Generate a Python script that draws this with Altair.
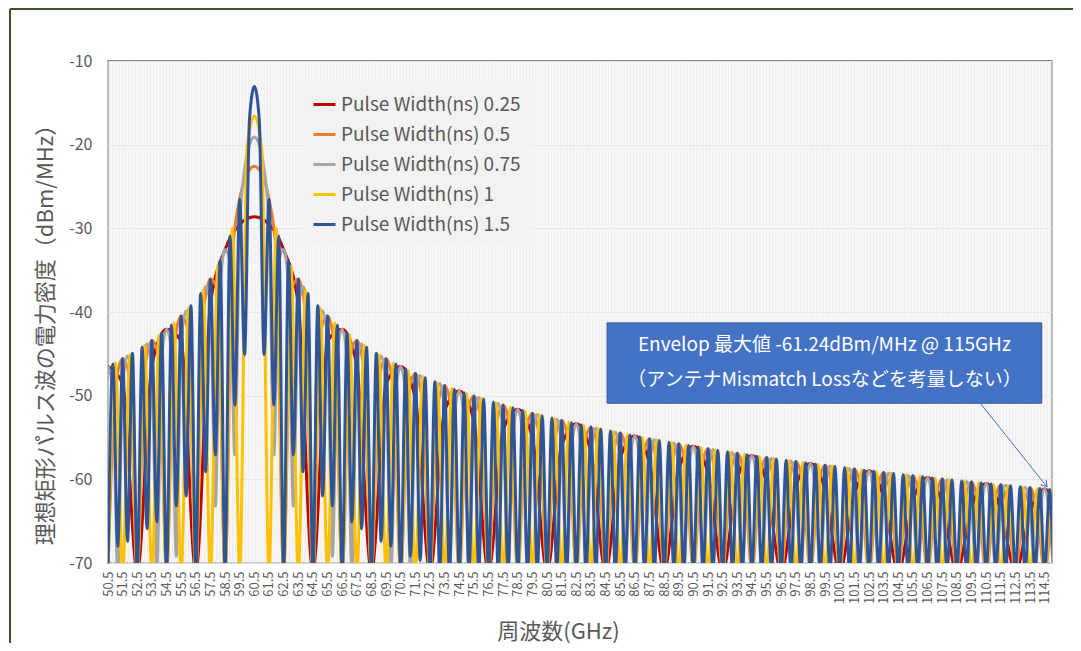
import altair as alt
import pandas as pd
import numpy as np

FONT = "Noto Sans CJK JP"
TXT = "#595959"

CENTER_GHZ = 60.5
X_MIN, X_MAX = 50.5, 115.0
Y_MIN, Y_MAX = -70, -10

SERIES = ["Pulse Width(ns) 0.25", "Pulse Width(ns) 0.5", "Pulse Width(ns) 0.75",
          "Pulse Width(ns) 1", "Pulse Width(ns) 1.5"]
COLORS = ["#C00000", "#ED7D31", "#A5A5A5", "#FFC000", "#2F5597"]
# spacing (GHz) between successive readings of each list, counted outward from 60.5 GHz
# (the spectrum is mirror-symmetric about 60.5 GHz)
READ_STEP = [1.0, 0.5, 1 / 3, 0.5, 1 / 3]

RED_DB = [
    -28.61, -29.52, -32.53, -39.06, -71, -43.50, -42.07, -46.42, -71, -48.61,
    -46.51, -50.35, -71, -51.80, -49.43, -53.04, -71, -54.13, -51.62, -55.10,
    -71, -55.96, -53.36, -56.76, -71, -57.48, -54.81, -58.15, -71, -58.77,
    -56.05, -59.35, -71, -59.89, -57.14, -60.40, -71, -60.88, -58.11, -61.34,
    -71, -61.78, -58.98, -62.19, -71, -62.58, -59.77, -62.96, -71, -63.32,
    -60.49, -63.67, -71, -64.01, -61.16, -64.33,
]
ORANGE_DB = [
    -22.59, -23.50, -26.51, -33.04, -71, -37.48, -36.05, -40.40, -71, -42.58,
    -40.49, -44.33, -71, -45.78, -43.41, -47.02, -71, -48.11, -45.59, -49.07,
    -71, -49.94, -47.34, -50.73, -71, -51.46, -48.79, -52.13, -71, -52.75,
    -50.03, -53.33, -71, -53.87, -51.12, -54.38, -71, -54.86, -52.09, -55.32,
    -71, -55.76, -52.95, -56.17, -71, -56.56, -53.74, -56.94, -71, -57.30,
    -54.47, -57.65, -71, -57.99, -55.14, -58.31, -71, -58.62, -55.76, -58.92,
    -71, -59.21, -56.34, -59.49, -71, -59.76, -56.88, -60.02, -71, -60.28,
    -57.39, -60.52, -71, -60.77, -57.87, -61.00, -71, -61.23, -58.33, -61.45,
    -71, -61.67, -58.77, -61.88, -71, -62.09, -59.18, -62.29, -71, -62.49,
    -59.57, -62.68, -71, -62.87, -59.95, -63.05, -71, -63.23, -60.31, -63.41,
    -71, -63.59, -60.66, -63.76, -71, -63.92, -61.00, -64.09, -71, -64.25,
    -61.32,
]
GRAY_DB = [
    -19.07, -19.98, -22.99, -29.52, -57.1, -33.96, -32.53, -36.88, -63.2, -39.06,
    -36.97, -40.81, -71, -42.26, -39.89, -43.50, -69.2, -44.59, -42.07, -45.55,
    -71, -46.42, -43.82, -47.21, -71, -47.94, -45.27, -48.61, -71, -49.23,
    -46.51, -49.81, -71, -50.35, -47.60, -50.86, -71, -51.34, -48.56, -51.80,
    -71, -52.23, -49.43, -52.65, -71, -53.04, -50.22, -53.42, -71, -53.78,
    -50.95, -54.13, -71, -54.46, -51.62, -54.79, -71, -55.10, -52.24, -55.40,
    -71, -55.69, -52.82, -55.97, -71, -56.24, -53.36, -56.50, -71, -56.76,
    -53.87, -57.00, -71, -57.24, -54.35, -57.48, -71, -57.71, -54.81, -57.93,
    -71, -58.15, -55.24, -58.36, -71, -58.57, -55.66, -58.77, -71, -58.97,
    -56.05, -59.16, -71, -59.35, -56.43, -59.53, -71, -59.71, -56.79, -59.89,
    -71, -60.06, -57.14, -60.24, -71, -60.40, -57.47, -60.57, -71, -60.73,
    -57.80, -60.88, -71, -61.04, -58.11, -61.19, -71, -61.34, -58.41, -61.49,
    -71, -61.63, -58.70, -61.78, -71, -61.92, -58.98, -62.05, -71, -62.19,
    -59.25, -62.32, -71, -62.46, -59.51, -62.59, -71, -62.71, -59.77, -62.84,
    -71, -62.96, -60.01, -63.09, -71, -63.21, -60.26, -63.32, -71, -63.44,
    -60.49, -63.56, -71, -63.67, -60.72, -63.78, -71, -63.90, -60.94, -64.01,
    -71, -64.11, -61.16, -64.22, -71, -64.33,
]
YELLOW_DB = [
    -16.57, -20.49, -71, -30.03, -71, -34.47, -71, -37.39, -71, -39.57,
    -71, -41.32, -71, -42.77, -71, -44.01, -71, -45.10, -71, -46.06,
    -71, -46.93, -71, -47.72, -71, -48.45, -71, -49.12, -71, -49.74,
    -71, -50.32, -71, -50.86, -71, -51.37, -71, -51.85, -71, -52.31,
    -71, -52.75, -71, -53.16, -71, -53.55, -71, -53.93, -71, -54.29,
    -71, -54.64, -71, -54.98, -71, -55.30, -71, -55.61, -71, -55.91,
    -71, -56.20, -71, -56.48, -71, -56.75, -71, -57.01, -71, -57.27,
    -71, -57.51, -71, -57.76, -71, -57.99, -71, -58.22, -71, -58.44,
    -71, -58.66, -71, -58.87, -71, -59.08, -71, -59.28, -71, -59.48,
    -71, -59.67, -71, -59.86, -71, -60.04, -71, -60.22, -71, -60.40,
    -71, -60.58, -71, -60.75, -71, -60.91, -71, -61.08, -71, -61.24,
    -71,
]
BLUE_DB = [
    -13.05, -16.97, -45.1, -26.51, -51.1, -30.95, -71, -33.87, -57.1, -36.05,
    -59.1, -37.80, -71, -39.25, -62.0, -40.49, -63.2, -41.58, -71, -42.54,
    -65.1, -43.41, -65.9, -44.20, -71, -44.93, -67.4, -45.60, -68.0, -46.22,
    -71, -46.80, -69.2, -47.34, -69.7, -47.85, -71, -48.33, -71, -48.79,
    -71, -49.22, -71, -49.64, -71, -50.03, -71, -50.41, -71, -50.77,
    -71, -51.12, -71, -51.45, -71, -51.78, -71, -52.09, -71, -52.39,
    -71, -52.68, -71, -52.96, -71, -53.23, -71, -53.49, -71, -53.75,
    -71, -53.99, -71, -54.23, -71, -54.47, -71, -54.70, -71, -54.92,
    -71, -55.14, -71, -55.35, -71, -55.56, -71, -55.76, -71, -55.96,
    -71, -56.15, -71, -56.34, -71, -56.52, -71, -56.70, -71, -56.88,
    -71, -57.05, -71, -57.23, -71, -57.39, -71, -57.56, -71, -57.72,
    -71, -57.87, -71, -58.03, -71, -58.18, -71, -58.33, -71, -58.48,
    -71, -58.62, -71, -58.77, -71, -58.91, -71, -59.04, -71, -59.18,
    -71, -59.31, -71, -59.45, -71, -59.58, -71, -59.70, -71, -59.83,
    -71, -59.95, -71, -60.08, -71, -60.20, -71, -60.31, -71, -60.43,
    -71, -60.55, -71, -60.66, -71, -60.77, -71, -60.89, -71, -61.00,
    -71, -61.10, -71, -61.21, -71, -61.32,
]
SERIES_DB = [RED_DB, ORANGE_DB, GRAY_DB, YELLOW_DB, BLUE_DB]

Y_TICKS = [-10, -20, -30, -40, -50, -60, -70]
X_TICKS = [round(X_MIN + k, 1) for k in range(65)]          # 50.5 ... 114.5
GRID_X = [round(v, 2) for v in np.arange(X_MIN, X_MAX + 0.001, 0.1)]

NOTE_BOX = {"f": [84.6], "f2": [114.3], "db": [-41.3], "db2": [-50.9]}
NOTE_LINES = ["Envelop 最大値 -61.24dBm/MHz @ 115GHz",
              "（アンテナMismatch  Lossなどを考量しない）"]
NOTE_F = [99.45, 99.45]
NOTE_DB = [-43.95, -48.15]
ARROW = {"f": [110.1], "db": [-50.9], "f2": [114.66], "db2": [-60.9]}

# ---------- build table ----------
rows = []
for name, step, vals in zip(SERIES, READ_STEP, SERIES_DB):
    for i, v in enumerate(vals):
        off = i * step
        rows.append({"series": name, "f": round(CENTER_GHZ + off, 4), "db": v})
        if i > 0 and off <= CENTER_GHZ - X_MIN + 1e-6:
            rows.append({"series": name, "f": round(CENTER_GHZ - off, 4), "db": v})
df = pd.DataFrame(rows).sort_values(["series", "f"])

xscale = alt.Scale(domain=[X_MIN, X_MAX], nice=False, zero=False)
yscale = alt.Scale(domain=[Y_MIN, Y_MAX], nice=False, zero=False)

x_axis = alt.Axis(values=X_TICKS, format=".1f", labelAngle=-90, labelFontSize=13,
                  labelColor=TXT, labelFont=FONT, labelPadding=8, ticks=False,
                  domain=False, grid=False, labelOverlap=False, labelFlush=False,
                  labelBound=False, title="周波数(GHz)", titleFontSize=22,
                  titleColor=TXT, titleFont=FONT, titleFontWeight="normal",
                  titleX=450, titleY=68, titleBaseline="middle", titleAnchor="middle")
y_axis = alt.Axis(values=Y_TICKS, grid=True, gridColor="#d9d9d9", domain=False,
                  ticks=False, labelPadding=16, labelFontSize=16, labelColor=TXT,
                  labelFont=FONT, labelExpr="toString(datum.value)",
                  title="理想矩形パルス波の電力密度（dBm/MHz）",
                  titleFontSize=22, titleColor=TXT, titleFont=FONT,
                  titleFontWeight="normal", titleX=-63, titleY=268,
                  titleBaseline="middle", titleAlign="center")

X = alt.X("f:Q", scale=xscale, axis=x_axis)
Y = alt.Y("db:Q", scale=yscale, axis=y_axis)

grid = alt.Chart(pd.DataFrame({"f": GRID_X})).mark_rule(
    color="#eeeeee", strokeWidth=1).encode(x=X)

legend = alt.Legend(title=None, orient="none", legendX=194, legendY=21,
                    fillColor="#f2f2f2", padding=10, symbolType="stroke",
                    symbolSize=484, symbolStrokeWidth=3, labelFontSize=19,
                    labelColor=TXT, labelFont=FONT, rowPadding=7, labelOffset=4,
                    labelLimit=400)
color = alt.Color("series:N", scale=alt.Scale(domain=SERIES, range=COLORS),
                  legend=legend)

lines = [
    alt.Chart(df[df["series"] == s]).mark_line(
        strokeWidth=3, interpolate="monotone", clip=True).encode(x=X, y=Y, color=color)
    for s in SERIES
]

box = alt.Chart(pd.DataFrame(NOTE_BOX)).mark_rect(
    fill="#4472C4", stroke="#2F5597", strokeWidth=1).encode(
    x=X, x2="f2:Q", y=Y, y2="db2:Q")
note = alt.Chart(pd.DataFrame({"f": NOTE_F, "db": NOTE_DB, "t": NOTE_LINES})).mark_text(
    color="white", fontSize=19, font=FONT, align="center", baseline="middle").encode(
    x=X, y=Y, text="t:N")
arrow = alt.Chart(pd.DataFrame(ARROW)).mark_rule(
    color="#4472C4", strokeWidth=1).encode(x=X, x2="f2:Q", y=Y, y2="db2:Q")
head = alt.Chart(pd.DataFrame({"f": ARROW["f2"], "db": ARROW["db2"]})).mark_point(
    shape="M-0.6,1L0,0L0.6,1", size=140, angle=141, filled=False,
    stroke="#4472C4", strokeWidth=1, opacity=1).encode(x=X, y=Y)

one = pd.DataFrame({"k": [0]})
frame_left = alt.Chart(one).mark_rule(color="#385723", strokeWidth=2).encode(
    x=alt.value(-98), y=alt.value(-52), y2=alt.value(600))
frame_top = alt.Chart(one).mark_rule(color="#385723", strokeWidth=2).encode(
    x=alt.value(-98), x2=alt.value(1000), y=alt.value(-52))

chart = alt.layer(grid, *lines, box, note, arrow, head, frame_left, frame_top).properties(
    width=944, height=502,
    padding={"left": 100, "top": 53, "right": 21, "bottom": 80},
    autosize=alt.AutoSizeParams(type="none"),
).configure_view(stroke="#595959", strokeWidth=1.5)

chart.save("out.html", embed_options={"renderer": "svg", "actions": False})
